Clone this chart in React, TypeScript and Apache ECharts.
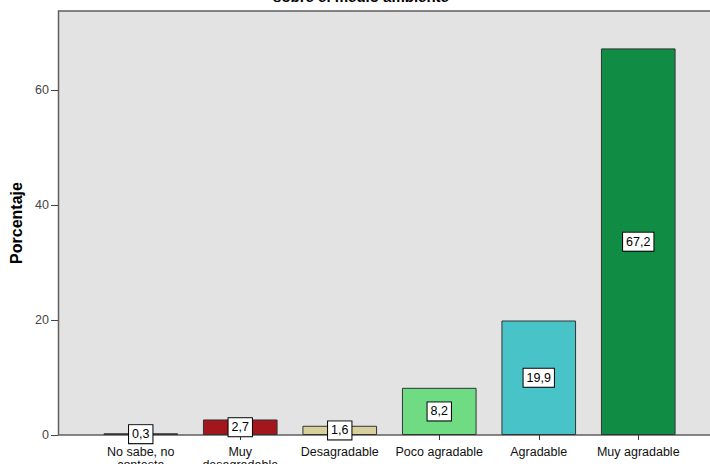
import React, { useEffect, useRef } from "react";
import * as echarts from "echarts";

const categories = [
  "No sabe, no\ncontesta",
  "Muy\ndesagradable",
  "Desagradable",
  "Poco agradable",
  "Agradable",
  "Muy agradable",
];
const values = [0.3, 2.7, 1.6, 8.2, 19.9, 67.2];
const barColors = ["#5E5C32", "#A3171C", "#D8D09C", "#6FDC83", "#48C4C8", "#118C45"];
const yTicks = [0, 20, 40, 60];
const titleText = "sobre el medio ambiente";
const yAxisTitle = "Porcentaje";

export default function App() {
  const ref = useRef<HTMLDivElement>(null);
  useEffect(() => {
    if (!ref.current) return;
    const chart = echarts.init(ref.current, null, { renderer: "svg" });
    chart.setOption({
      animation: false,
      backgroundColor: "#ffffff",
      textStyle: { fontFamily: "Liberation Sans, Arial, sans-serif" },
      grid: {
        left: 91,
        right: 22,
        top: 11,
        bottom: 29,
        containLabel: false,
        outerBoundsMode: "none",
      },
      graphic: [
        {
          type: "rect",
          z: -10,
          silent: true,
          shape: { x: 58.5, y: 11, width: 700, height: 424 },
          style: { fill: "#E3E3E3", stroke: "#5f5f5f", lineWidth: 1.5 },
        },
        {
          type: "text",
          x: 361,
          y: 4,
          style: {
            text: titleText,
            fill: "#000",
            font: "bold 15px Liberation Sans, Arial, sans-serif",
            align: "center",
            verticalAlign: "bottom",
          },
        },
      ],
      xAxis: {
        type: "category",
        data: categories,
        axisLine: { show: false },
        axisTick: { show: true, alignWithLabel: true, length: 5, lineStyle: { color: "#333" } },
        axisLabel: { color: "#111", fontSize: 12.5, margin: 10, interval: 0, lineHeight: 13 },
      },
      yAxis: {
        type: "value",
        min: 0,
        max: 73.7,
        interval: 20,
        offset: 33,
        splitLine: { show: false },
        axisLine: { show: false },
        axisTick: { show: true, length: 7, lineStyle: { color: "#444" } },
        axisLabel: {
          color: "#444",
          fontSize: 12.5,
          margin: 9,
          formatter: (v: number) => (yTicks.includes(v) ? String(v) : ""),
          showMaxLabel: false,
        },
        name: yAxisTitle,
        nameLocation: "middle",
        nameRotate: 90,
        nameGap: 34,
        nameTextStyle: { fontWeight: "bold", fontSize: 16, color: "#000" },
      },
      series: [
        {
          type: "bar",
          barWidth: "75%",
          data: values.map((v, i) => ({ value: v, itemStyle: { color: barColors[i] } })),
          itemStyle: { borderColor: "#333", borderWidth: 1 },
          label: {
            show: true,
            position: "inside",
            formatter: (p: any) => String(p.value).replace(".", ","),
            color: "#000",
            fontSize: 12.5,
            backgroundColor: "#fff",
            borderColor: "#000",
            borderWidth: 1,
            padding: [3, 3, 2, 3],
          },
        },
      ],
    });
    return () => chart.dispose();
  }, []);
  return (
    <div
      ref={ref}
      style={{ position: "fixed", left: 0, top: 0, width: 710, height: 464 }}
    />
  );
}
